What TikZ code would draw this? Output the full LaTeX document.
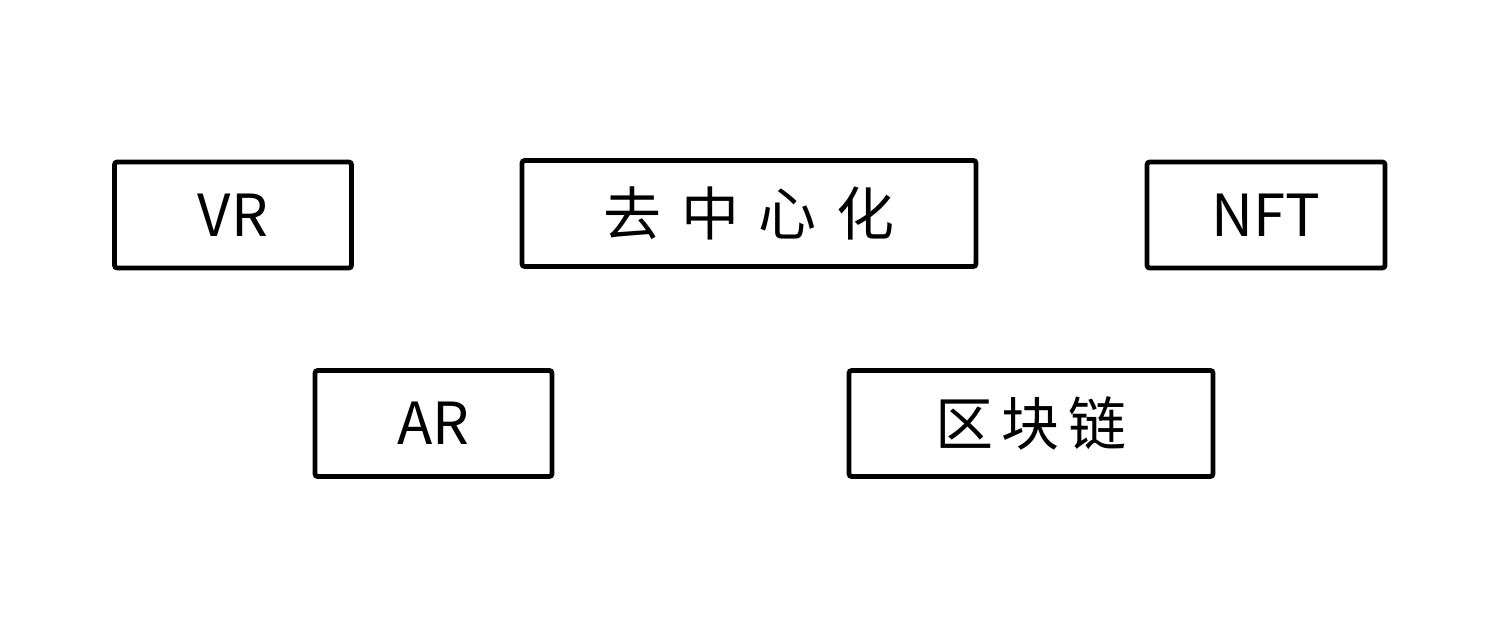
\documentclass[tikz,border=0pt]{standalone}
\usepackage{fontspec}
\setmainfont{Noto Sans CJK SC}
\newfontfamily\widecjk[LetterSpace=34]{Noto Sans CJK SC}
\newfontfamily\loosecjk[LetterSpace=14]{Noto Sans CJK SC}

\tikzset{
  tag/.style={draw,line width=2.7pt,rounded corners=1.5pt,
    minimum height=2.12cm,inner sep=0pt,font=\fontsize{33}{38}\selectfont}
}

\begin{document}
\begin{tikzpicture}
  \useasboundingbox (0,0) rectangle (30,12.8);
  % top row
  \node[tag,minimum width=4.74cm] (vr) at (4.66,8.5) {VR};
  \node[tag,minimum width=9.08cm] (dec) at (14.98,8.53) {\widecjk 去中心化};
  \node[tag,minimum width=4.76cm] (nft) at (25.32,8.5) {NFT};
  % bottom row
  \node[tag,minimum width=4.74cm] (ar) at (8.67,4.33) {AR};
  \node[tag,minimum width=7.28cm] (chain) at (20.62,4.33) {\loosecjk 区块链};
\end{tikzpicture}
\end{document}
